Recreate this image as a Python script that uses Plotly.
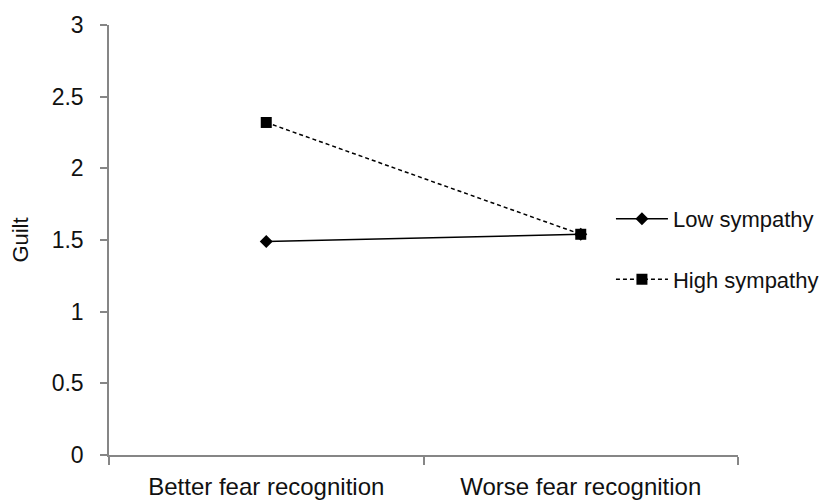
import plotly.graph_objects as go

categories = ["Better fear recognition", "Worse fear recognition"]
low_sympathy = [1.49, 1.54]
high_sympathy = [2.32, 1.54]
y_ticks = [0, 0.5, 1, 1.5, 2, 2.5, 3]
y_ticklabels = ["0", "0.5", "1", "1.5", "2", "2.5", "3"]

FONT = "Liberation Sans, Arial, sans-serif"
AXIS_COLOR = "#868686"

fig = go.Figure()
fig.add_trace(go.Scatter(
    x=categories, y=low_sympathy, name="Low sympathy", mode="lines+markers",
    line=dict(color="black", width=1.5),
    marker=dict(symbol="diamond", size=10, color="black"),
    legendgroup="low",
))
fig.add_trace(go.Scatter(
    x=categories, y=high_sympathy, name="High sympathy", mode="lines+markers",
    line=dict(color="black", width=1.5, dash="4px,3px"),
    marker=dict(symbol="square", size=11, color="black"),
    legendgroup="high",
))

fig.update_layout(
    width=828, height=494,
    margin=dict(l=101, r=77, t=17, b=47),
    paper_bgcolor="white", plot_bgcolor="white",
    font=dict(family=FONT, size=22, color="#111111"),
    legend=dict(
        x=0.798, y=0.598, xanchor="left", yanchor="top",
        bgcolor="rgba(0,0,0,0)", itemwidth=52, tracegroupgap=29,
        traceorder="grouped", font=dict(size=22),
    ),
    showlegend=True,
)
fig.update_xaxes(
    type="category", range=[-0.5, 1.5], tickson="boundaries",
    showline=True, linecolor=AXIS_COLOR, linewidth=1.5,
    ticks="outside", ticklen=8, tickcolor=AXIS_COLOR, tickwidth=1.5,
    tickfont=dict(size=24), ticklabelstandoff=9,
    showgrid=False, zeroline=False, automargin=False,
)
fig.update_yaxes(
    range=[0, 3], tickvals=y_ticks, ticktext=y_ticklabels,
    showline=True, linecolor=AXIS_COLOR, linewidth=1.5,
    ticks="outside", ticklen=7, tickcolor=AXIS_COLOR, tickwidth=1.5,
    ticklabelstandoff=12, tickfont=dict(size=23),
    showgrid=False, zeroline=False, automargin=False,
    title=dict(text="Guilt", standoff=20, font=dict(size=22)),
)

fig.write_html("out.html", config={"displayModeBar": False})
